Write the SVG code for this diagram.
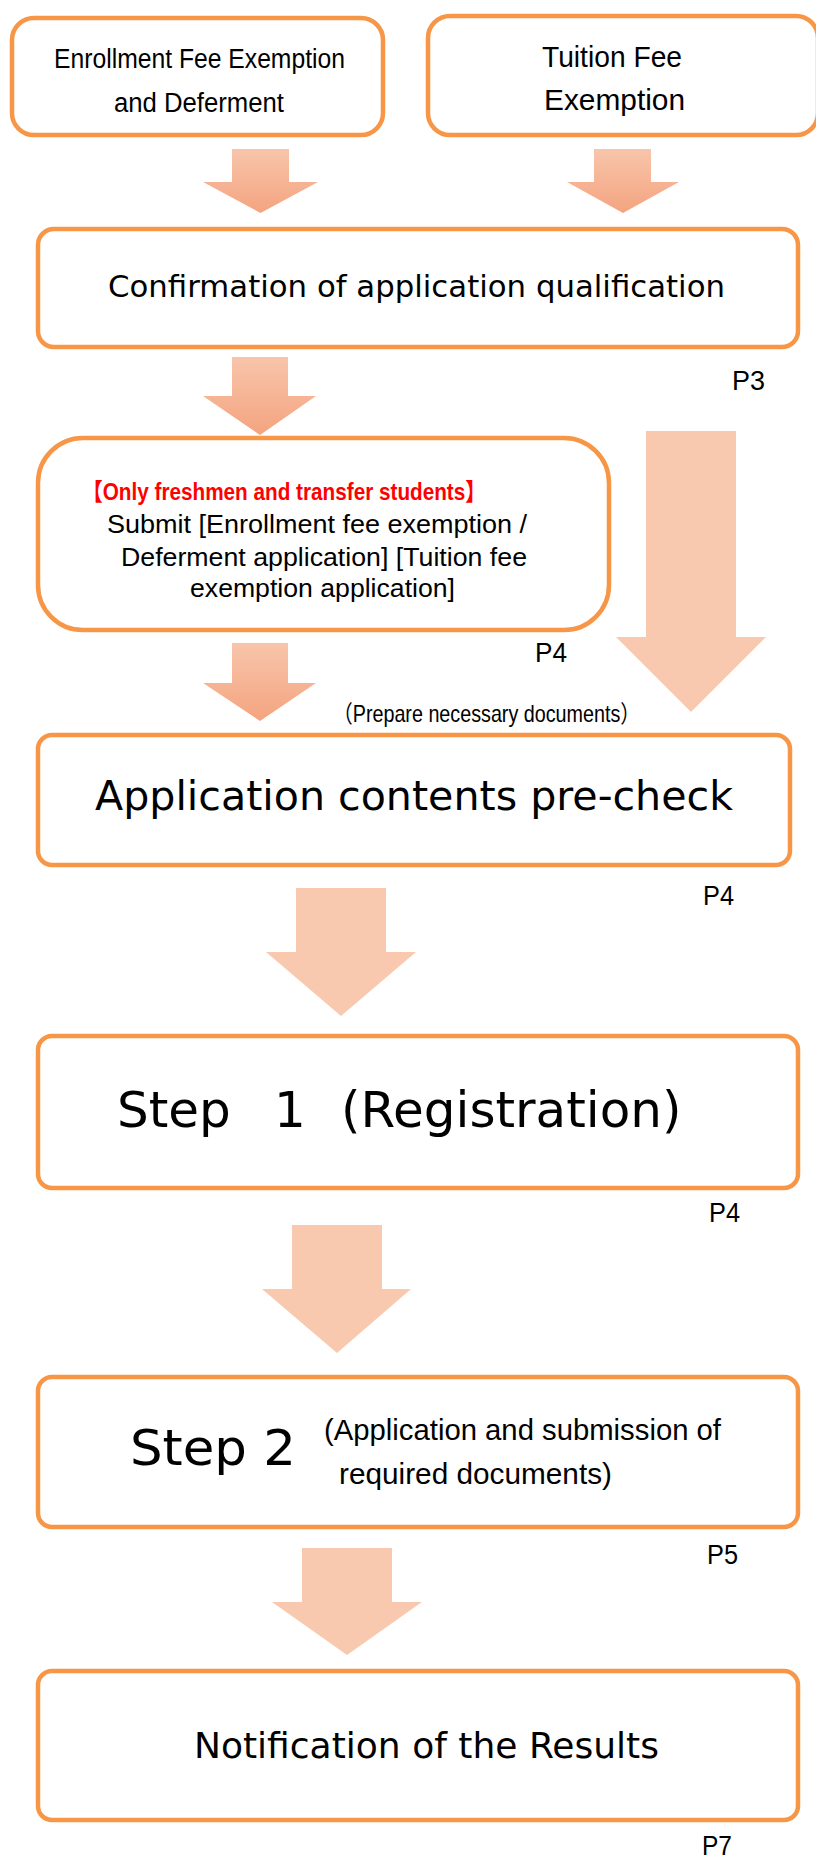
<svg xmlns="http://www.w3.org/2000/svg" width="816" height="1861" viewBox="0 0 816 1861">
<defs>
<linearGradient id="ag" x1="0" y1="0" x2="0" y2="1">
<stop offset="0" stop-color="#F8C5AB"/>
<stop offset="1" stop-color="#F4A47F"/>
</linearGradient>
<style>
.box{fill:#FFFFFF;stroke:#F79646;stroke-width:4.5}
.ga{fill:url(#ag)}
.fa{fill:#F9C9AF}
.v{font-family:"DejaVu Sans","Verdana",sans-serif;fill:#000}
.n{font-family:"Liberation Sans Narrow","Liberation Sans","Arial",sans-serif;fill:#000}
.c{font-family:"Liberation Sans","Noto Sans CJK JP",sans-serif;fill:#000}
.red{fill:#FF0000;font-weight:bold}
.pg{font-family:"Liberation Sans Narrow","Liberation Sans",sans-serif;font-size:28px;fill:#000}
</style>
</defs>
<rect width="816" height="1861" fill="#FFFFFF"/>
<g id="connectors">
<polygon class="ga" points="232,149 289,149 289,182 318,182 260.5,213 203,182 232,182"/>
<polygon class="ga" points="594,149 651,149 651,182 679,182 623,213 567,182 594,182"/>
<polygon class="ga" points="232,357 288,357 288,396 316,396 260,435 203,396 232,396"/>
<polygon class="ga" points="232,643 288,643 288,683 316,683 260,721 203,683 232,683"/>
<polygon class="fa" points="646,431 736,431 736,637 766,637 691,712 616,637 646,637"/>
<polygon class="fa" points="296,888 386,888 386,952 416,952 341,1016 266,952 296,952"/>
<polygon class="fa" points="292,1225 382,1225 382,1289 411,1289 337,1353 262,1289 292,1289"/>
<polygon class="fa" points="302,1548 392,1548 392,1602 422,1602 347,1655 272,1602 302,1602"/>
</g>
<g id="node-enrollment">
<rect class="box" x="12" y="18" width="371" height="117" rx="22"/>
<text class="n" x="54" y="68" font-size="27" textLength="291" lengthAdjust="spacingAndGlyphs">Enrollment Fee Exemption</text>
<text class="n" x="114" y="112" font-size="27" textLength="170" lengthAdjust="spacingAndGlyphs">and Deferment</text>
</g>
<g id="node-tuition">
<rect class="box" x="428" y="16" width="390" height="119" rx="22"/>
<text class="n" x="542" y="67" font-size="30" textLength="140" lengthAdjust="spacingAndGlyphs">Tuition Fee</text>
<text class="n" x="544" y="110" font-size="30" textLength="141" lengthAdjust="spacingAndGlyphs">Exemption</text>
</g>
<g id="node-confirmation">
<rect class="box" x="38" y="229" width="760" height="118" rx="16"/>
<text class="v" x="108" y="297" font-size="30" textLength="617" lengthAdjust="spacingAndGlyphs">Confirmation of application qualification</text>
<text class="pg" x="732" y="390" textLength="33" lengthAdjust="spacingAndGlyphs">P3</text>
</g>
<g id="node-submit">
<rect class="box" x="38" y="438" width="571" height="192" rx="45"/>
<text class="c red" x="82" y="500" font-size="24" textLength="404" lengthAdjust="spacingAndGlyphs">【Only  freshmen and transfer students】</text>
<text class="n" x="107" y="533" font-size="26" textLength="420" lengthAdjust="spacingAndGlyphs">Submit [Enrollment fee exemption /</text>
<text class="n" x="121" y="566" font-size="26" textLength="406" lengthAdjust="spacingAndGlyphs">Deferment application] [Tuition fee</text>
<text class="n" x="190" y="597" font-size="26" textLength="265" lengthAdjust="spacingAndGlyphs">exemption application]</text>
<text class="pg" x="535" y="662" textLength="32" lengthAdjust="spacingAndGlyphs">P4</text>
</g>
<g id="label-prepare">
<text class="c" x="333" y="722" font-size="24" textLength="307" lengthAdjust="spacingAndGlyphs">（Prepare necessary documents）</text>
</g>
<g id="node-precheck">
<rect class="box" x="38" y="735" width="752" height="130" rx="14"/>
<text class="v" x="95" y="810" font-size="41" textLength="638" lengthAdjust="spacingAndGlyphs">Application contents pre-check</text>
<text class="pg" x="703" y="905" textLength="31" lengthAdjust="spacingAndGlyphs">P4</text>
</g>
<g id="node-step1">
<rect class="box" x="38" y="1036" width="760" height="152" rx="14"/>
<text class="v" y="1127" font-size="50"><tspan x="117">Step</tspan><tspan x="274">1</tspan><tspan x="341">(Registration)</tspan></text>
<text class="pg" x="709" y="1222" textLength="31" lengthAdjust="spacingAndGlyphs">P4</text>
</g>
<g id="node-step2">
<rect class="box" x="38" y="1377" width="760" height="150" rx="14"/>
<text class="v" x="130" y="1465" font-size="50" textLength="166" lengthAdjust="spacingAndGlyphs">Step 2</text>
<text class="n" x="324" y="1440" font-size="30" textLength="397" lengthAdjust="spacingAndGlyphs">(Application and submission of</text>
<text class="n" x="339" y="1484" font-size="30" textLength="273" lengthAdjust="spacingAndGlyphs">required documents)</text>
<text class="pg" x="707" y="1564" textLength="31" lengthAdjust="spacingAndGlyphs">P5</text>
</g>
<g id="node-results">
<rect class="box" x="38" y="1671" width="760" height="149" rx="14"/>
<text class="v" x="194" y="1758" font-size="36" textLength="465" lengthAdjust="spacingAndGlyphs">Notification of the Results</text>
<text class="pg" x="702" y="1855" textLength="30" lengthAdjust="spacingAndGlyphs">P7</text>
</g>
</svg>
